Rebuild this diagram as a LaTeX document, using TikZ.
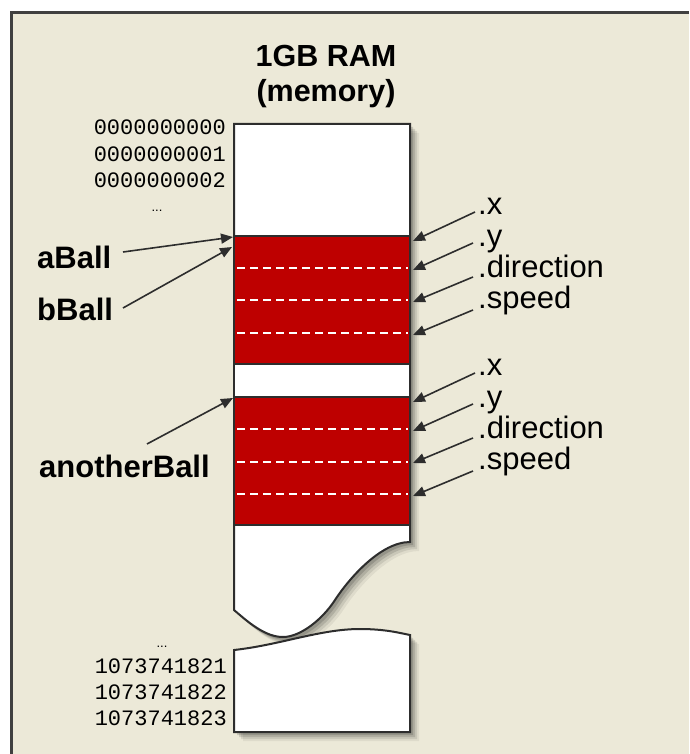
\documentclass[tikz,border=0pt]{standalone}
\usepackage{fontspec}
\setmainfont{Liberation Sans}
\setmonofont{Liberation Mono}
\usetikzlibrary{arrows.meta}
\definecolor{bg}{RGB}{236,233,216}
\definecolor{ramred}{RGB}{190,0,0}
\definecolor{edge}{RGB}{45,45,45}
\definecolor{framec}{RGB}{64,64,64}
\begin{document}
\begin{tikzpicture}[x=1pt,y=-1pt,
  upperpath/.style={insert path={(234,124) -- (410,124) -- (410,542)
     .. controls (380,542) and (348,580) .. (335,600)
     .. controls (322,620) and (300,637) .. (283,637)
     .. controls (265,637) and (248,622) .. (234,610) -- cycle}},
  lowerpath/.style={insert path={(234,650)
     .. controls (280,645) and (320,629) .. (360,629)
     .. controls (385,629) and (400,633) .. (410,635)
     -- (410,732) -- (234,732) -- cycle}},
  outline/.style={draw=edge, line width=2},
  block/.style={outline, fill=ramred, minimum width=176, minimum height=128, anchor=north west, inner sep=0, outer sep=0},
  gapbox/.style={outline, fill=white, minimum width=176, minimum height=33, anchor=north west, inner sep=0, outer sep=0},
  field/.style={white, line width=1.5, dash pattern=on 8pt off 5pt},
  title/.style={font=\bfseries\fontsize{30.5}{36}\selectfont, inner sep=0, anchor=base},
  lbl/.style={font=\bfseries\fontsize{31}{36}\selectfont, inner sep=0, anchor=base west},
  fld/.style={font=\fontsize{31}{36}\selectfont, inner sep=0, anchor=base west},
  addr/.style={font=\ttfamily\fontsize{22}{26}\selectfont, inner sep=0, anchor=base east},
  dots/.style={font=\fontsize{13}{15}\selectfont, inner sep=0, anchor=base},
  arr/.style={draw=edge, line width=1.6, -{Triangle[length=12,width=10]}},
  shad/.style={fill=black, opacity=#1}
]
\useasboundingbox (0,0) rectangle (689,754);
\fill[white] (0,0) rectangle (689,754);
\fill[bg] (11.5,12.5) rectangle (689,754);
\draw[draw=framec, line width=2.5] (11.5,754) -- (11.5,12.5) -- (689,12.5);

% shadows
\foreach \d/\o in {9/0.06,7/0.09,5/0.12,3/0.15}{
  \path[shad=\o, shift={(\d,\d)}, upperpath];
  \path[shad=\o, shift={(\d,\d)}, lowerpath];
}

% memory column
\path[fill=white, outline, upperpath];
\node[block] (ballA) at (234,236) {};
\node[gapbox] (gap) at (234,364) {};
\node[block] (ballB) at (234,397) {};
\path[fill=white, outline, lowerpath];

% field separators
\foreach \y in {268,300,333,429,462,494}{
  \draw[field] (237,\y) -- (408,\y);
}

% title
\node[title] (t1) at (326,67) {1GB RAM};
\node[title] (t2) at (326,102) {(memory)};

% addresses
\node[addr] (ad0) at (226,135) {0000000000};
\node[addr] (ad1) at (226,161) {0000000001};
\node[addr] (ad2) at (226,187) {0000000002};
\node[dots] (ad3) at (157,211) {...};
\node[dots] (ad4) at (162,647) {...};
\node[addr] (ad5) at (227,673) {1073741821};
\node[addr] (ad6) at (227,699) {1073741822};
\node[addr] (ad7) at (227,725) {1073741823};

% left labels
\node[lbl] (aBall) at (37,268) {aBall};
\node[lbl] (bBall) at (37,320) {bBall};
\node[lbl] (another) at (39,477) {anotherBall};

\coordinate (aTail) at (123,252);
\coordinate (bTail) at (123,308);
\coordinate (cTail) at (147,444);
\coordinate (aTip) at (233,237);
\coordinate (bTip) at (232,247);
\coordinate (cTip) at (233,398);
\draw[arr] (aTail) -- (aTip);
\draw[arr] (bTail) -- (bTip);
\draw[arr] (cTail) -- (cTip);

% right labels, group 1 and 2
\foreach \g/\off in {1/0,2/161}{
  \node[fld] (x\g) at (478,214+\off) {.x};
  \node[fld] (y\g) at (478,246+\off) {.y};
  \node[fld] (d\g) at (478,277+\off) {.direction};
  \node[fld] (s\g) at (478,308+\off) {.speed};
  \coordinate (xt\g) at (413,241+\off);
  \coordinate (yt\g) at (413,270+\off);
  \coordinate (dt\g) at (413,302+\off);
  \coordinate (st\g) at (413,335+\off);
  \draw[arr] ([shift={(-3,-2)}]x\g.base west) -- (xt\g);
  \draw[arr] ([shift={(-5,-3)}]y\g.base west) -- (yt\g);
  \draw[arr] ([shift={(-5,0)}]d\g.base west) -- (dt\g);
  \draw[arr] ([shift={(-5,2)}]s\g.base west) -- (st\g);
}
\end{tikzpicture}
\end{document}
